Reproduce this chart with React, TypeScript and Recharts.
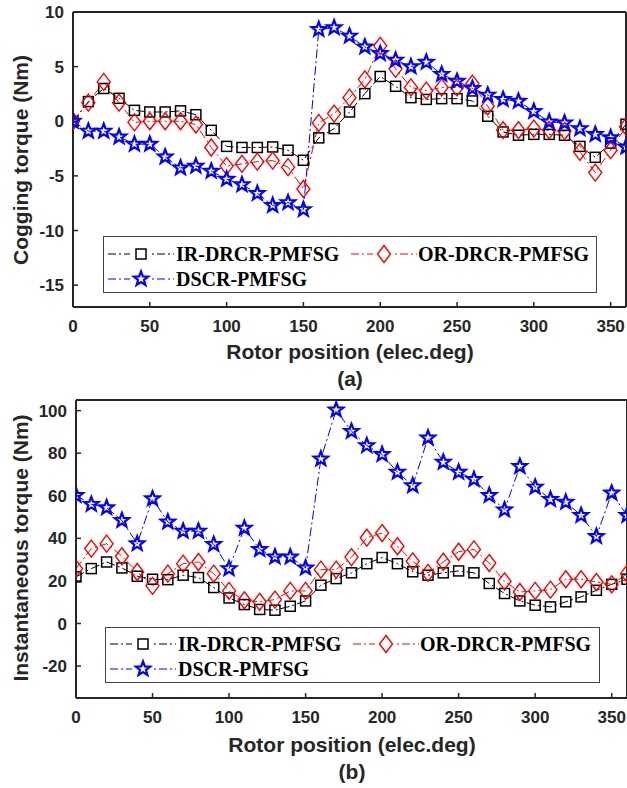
import React from 'react';
import { LineChart, Line, XAxis, YAxis, Legend } from 'recharts';

const positions = [0, 10, 20, 30, 40, 50, 60, 70, 80, 90, 100, 110, 120, 130, 140, 150, 160, 170, 180, 190, 200, 210, 220, 230, 240, 250, 260, 270, 280, 290, 300, 310, 320, 330, 340, 350, 360];

const coggingIR = [0, 1.8, 3.0, 2.1, 1.0, 0.85, 0.85, 0.95, 0.6, -0.83, -2.3, -2.4, -2.4, -2.35, -2.65, -3.57, -1.52, -0.67, 0.85, 2.53, 4.1, 3.2, 2.16, 2.0, 2.07, 2.07, 1.86, 0.46, -0.98, -1.28, -1.2, -1.2, -1.28, -2.3, -3.3, -2.0, -0.27];
const coggingOR = [0, 1.7, 3.6, 1.7, -0.1, 0, 0, 0, -0.3, -2.4, -4.1, -3.9, -3.7, -3.6, -4.2, -6.2, -0.15, 0.7, 2.16, 3.84, 6.9, 4.8, 3.1, 2.8, 3.1, 3.1, 3.45, 1.37, -0.82, -0.82, -0.67, -0.82, -0.9, -2.8, -4.7, -2.65, -0.5];
const coggingDSCR = [0, -0.9, -0.9, -1.43, -2.1, -2.1, -3.26, -4.27, -4.1, -4.57, -5.3, -5.8, -6.6, -7.7, -7.44, -8.08, 8.4, 8.57, 7.8, 6.8, 6.2, 5.6, 5.0, 5.4, 4.3, 3.66, 3.0, 2.4, 2.0, 1.83, 0.9, -0.06, -0.15, -0.67, -1.2, -1.5, -2.35];

const instIR = [21.9, 25.8, 28.9, 26.1, 22.2, 20.8, 20.6, 22.7, 21.6, 16.9, 12.0, 8.9, 6.6, 6.25, 8.1, 10.6, 18, 21.1, 23.8, 28.1, 31, 28.1, 24.3, 22.7, 23.8, 24.7, 23.8, 18.8, 14.1, 10.6, 8.6, 7.8, 10.2, 12.5, 15.6, 18.4, 20.8];
const instOR = [25.8, 35.2, 37.5, 31.6, 24.2, 17.7, 23.4, 28.1, 28.9, 23.4, 15.3, 10.9, 10.2, 11.25, 15.3, 15.3, 25.3, 25.3, 31.2, 40.3, 42.5, 36.3, 29.2, 23.8, 29, 33.7, 34.8, 28.4, 19.8, 14.8, 15.3, 15.9, 20.8, 20.8, 19.5, 18.4, 23.4];
const instDSCR = [60.2, 56, 54.4, 48.4, 37.5, 58.6, 47.7, 43.4, 43.4, 37.2, 25.8, 44.8, 34.8, 31.25, 31.25, 26.1, 77.3, 100.3, 90.3, 83.6, 79.4, 71.1, 64.8, 87.2, 75.8, 71.1, 67.7, 60.2, 53.4, 73.8, 64.1, 58.3, 57.0, 50.8, 40.9, 61.3, 50.8];

const xTicks = [0, 50, 100, 150, 200, 250, 300, 350];
const coggingTicks = [-15, -10, -5, 0, 5, 10];
const instTicks = [-20, 0, 20, 40, 60, 80, 100];
const seriesNames = ['IR-DRCR-PMFSG', 'OR-DRCR-PMFSG', 'DSCR-PMFSG'];
const seriesColors = ['#000000', '#ff0000', '#0000ff'];

const coggingData = positions.map((p, i) => ({ pos: p, ir: coggingIR[i], or: coggingOR[i], dscr: coggingDSCR[i] }));
const instData = positions.map((p, i) => ({ pos: p, ir: instIR[i], or: instOR[i], dscr: instDSCR[i] }));

const AXIS = '#262626';
const DASH = '9 3 2 3';
const SANS = '"Liberation Sans", Arial, sans-serif';
const SERIF = '"Liberation Serif", "Times New Roman", serif';

function Square({ cx, cy, s = 10, color }: any) {
  return <rect x={cx - s / 2} y={cy - s / 2} width={s} height={s} fill="none" stroke={color} strokeWidth={1.5} />;
}
function Diamond({ cx, cy, w = 13, h = 17, color }: any) {
  return (
    <polygon
      points={`${cx},${cy - h / 2} ${cx + w / 2},${cy} ${cx},${cy + h / 2} ${cx - w / 2},${cy}`}
      fill="none"
      stroke={color}
      strokeWidth={1.4}
    />
  );
}
function Star({ cx, cy, R = 7.5, color }: any) {
  const pts: string[] = [];
  const r = R * 0.42;
  for (let i = 0; i < 10; i++) {
    const a = (-90 + i * 36) * Math.PI / 180;
    const rr = i % 2 === 0 ? R : r;
    pts.push(`${cx + rr * Math.cos(a)},${cy + rr * Math.sin(a)}`);
  }
  return <polygon points={pts.join(' ')} fill="none" stroke={color} strokeWidth={2.2} strokeLinejoin="miter" />;
}

const markerFor = (idx: number, cx: number, cy: number, key?: string) => {
  const c = seriesColors[idx];
  if (idx === 0) return <Square key={key} cx={cx} cy={cy} color={c} />;
  if (idx === 1) return <Diamond key={key} cx={cx} cy={cy} color={c} />;
  return <Star key={key} cx={cx} cy={cy} color={c} />;
};

const tickStyle = { fill: AXIS, fontSize: 17, fontWeight: 'bold', fontFamily: SANS };

function LegendSample({ idx, x, y }: any) {
  const c = seriesColors[idx];
  return (
    <svg style={{ position: 'absolute', left: x, top: y - 12, overflow: 'visible' }} width={66} height={24}>
      <line x1={0} y1={12} x2={22} y2={12} stroke={c} strokeWidth={1} strokeDasharray="8 3 2 3" />
      <line x1={44} y1={12} x2={66} y2={12} stroke={c} strokeWidth={1} strokeDasharray="2 3 8 3" />
      {markerFor(idx, 33, 12)}
    </svg>
  );
}

function LegendBox({ row1, row2 }: any) {
  const textStyle: any = {
    position: 'absolute',
    fontFamily: SERIF,
    fontWeight: 'bold',
    fontSize: 20,
    color: '#000',
    whiteSpace: 'nowrap',
    lineHeight: '20px',
  };
  return (
    <div style={{ position: 'relative', width: '100%', height: '100%', boxSizing: 'border-box', border: '1.5px solid #444', background: '#fff' }}>
      <LegendSample idx={0} x={4} y={row1} />
      <div style={{ ...textStyle, left: 72, top: row1 - 10 }}>{seriesNames[0]}</div>
      <LegendSample idx={1} x={247} y={row1} />
      <div style={{ ...textStyle, left: 314, top: row1 - 10 }}>{seriesNames[1]}</div>
      <LegendSample idx={2} x={4} y={row2} />
      <div style={{ ...textStyle, left: 72, top: row2 - 10 }}>{seriesNames[2]}</div>
    </div>
  );
}

function Panel({ data, yTicks, yDomain, width, height, yAxisWidth, xAxisHeight, legendStyle, legendRows }: any) {
  const keys = ['ir', 'or', 'dscr'];
  return (
    <LineChart width={width} height={height} data={data} margin={{ top: 11, right: 0, bottom: 0, left: 0 }}>
      <XAxis
        dataKey="pos"
        type="number"
        domain={[0, 360]}
        ticks={xTicks}
        interval={0}
        allowDataOverflow
        height={xAxisHeight}
        tickSize={-5}
        tickMargin={18}
        axisLine={{ stroke: AXIS, strokeWidth: 2 }}
        tickLine={{ stroke: AXIS, strokeWidth: 1.5 }}
        tick={tickStyle}
      />
      <XAxis
        xAxisId="top"
        orientation="top"
        type="number"
        domain={[0, 360]}
        ticks={xTicks}
        interval={0}
        allowDataOverflow
        height={1}
        tickSize={-5}
        tick={false}
        axisLine={{ stroke: AXIS, strokeWidth: 2 }}
        tickLine={{ stroke: AXIS, strokeWidth: 1.5 }}
      />
      <YAxis
        type="number"
        domain={yDomain}
        ticks={yTicks}
        interval={0}
        allowDataOverflow
        width={yAxisWidth}
        tickSize={-5}
        tickMargin={14}
        axisLine={{ stroke: AXIS, strokeWidth: 2 }}
        tickLine={{ stroke: AXIS, strokeWidth: 1.5 }}
        tick={tickStyle}
      />
      <YAxis
        yAxisId="right"
        orientation="right"
        type="number"
        domain={yDomain}
        ticks={yTicks}
        interval={0}
        allowDataOverflow
        width={1}
        tickSize={-5}
        tick={false}
        axisLine={{ stroke: AXIS, strokeWidth: 2 }}
        tickLine={{ stroke: AXIS, strokeWidth: 1.5 }}
      />
      {keys.map((k, idx) => (
        <Line
          key={k}
          type="linear"
          dataKey={k}
          name={seriesNames[idx]}
          stroke={seriesColors[idx]}
          strokeWidth={1}
          strokeDasharray={DASH}
          isAnimationActive={false}
          activeDot={false}
          dot={(p: any) => markerFor(idx, p.cx, p.cy, `${k}-${p.index}`)}
        />
      ))}
      <Legend
        layout="horizontal"
        verticalAlign="middle"
        align="center"
        wrapperStyle={legendStyle}
        content={() => <LegendBox row1={legendRows[0]} row2={legendRows[1]} />}
      />
    </LineChart>
  );
}

const titleStyle: any = {
  position: 'absolute',
  fontFamily: SANS,
  fontWeight: 'bold',
  fontSize: 21,
  color: AXIS,
  whiteSpace: 'nowrap',
  transform: 'translate(-50%, -50%)',
  lineHeight: '22px',
};

export default function App() {
  return (
    <div style={{ position: 'fixed', left: 0, top: 0, width: 627, height: 788, overflow: 'hidden', background: '#fff' }}>
      <div style={{ position: 'absolute', left: 0, top: 0 }}>
        <Panel
          data={coggingData}
          yTicks={coggingTicks}
          yDomain={[-17, 10]}
          width={627}
          height={390}
          yAxisWidth={73}
          xAxisHeight={83}
          legendStyle={{ left: 103, top: 236, width: 494, height: 57 }}
          legendRows={[17, 42]}
        />
      </div>
      <div style={{ position: 'absolute', left: 0, top: 388 }}>
        <Panel
          data={instData}
          yTicks={instTicks}
          yDomain={[-35, 105]}
          width={628}
          height={400}
          yAxisWidth={76}
          xAxisHeight={90}
          legendStyle={{ left: 105, top: 239, width: 495, height: 56 }}
          legendRows={[16, 41]}
        />
      </div>
      <div style={{ ...titleStyle, left: 21, top: 160, transform: 'translate(-50%, -50%) rotate(-90deg)' }}>Cogging torque (Nm)</div>
      <div style={{ ...titleStyle, left: 350, top: 352 }}>Rotor position (elec.deg)</div>
      <div style={{ ...titleStyle, left: 350, top: 379 }}>(a)</div>
      <div style={{ ...titleStyle, left: 21, top: 548, transform: 'translate(-50%, -50%) rotate(-90deg)' }}>Instantaneous torque (Nm)</div>
      <div style={{ ...titleStyle, left: 352, top: 745 }}>Rotor position (elec.deg)</div>
      <div style={{ ...titleStyle, left: 352, top: 772 }}>(b)</div>
    </div>
  );
}
